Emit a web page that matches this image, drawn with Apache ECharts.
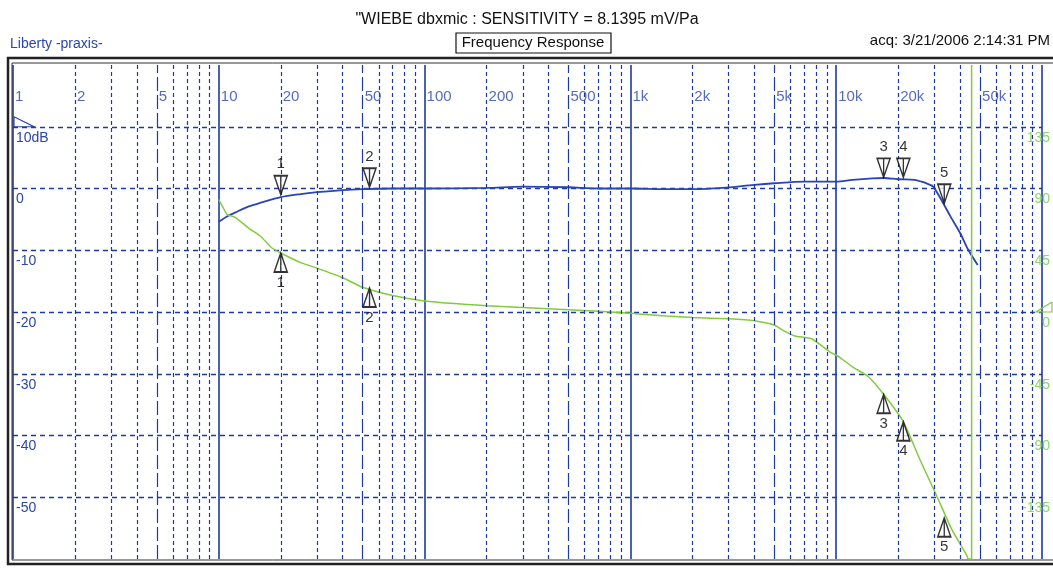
<!DOCTYPE html>
<html>
<head>
<meta charset="utf-8">
<script src="https://cdn.jsdelivr.net/npm/echarts@6/dist/echarts.min.js"></script>
<style>
html, body { margin: 0; padding: 0; background: #fff; }
#main { width: 1053px; height: 578px; }
</style>
</head>
<body>
<div id="main"></div>
<script>
// magnitude (dB)
var magFreq = [10, 11, 12, 14, 16, 20, 25, 30, 40, 50, 70, 100, 200, 300, 500, 700, 1000, 1500, 2000, 2800, 4000, 5000, 7000, 10000, 12000, 15000, 17000, 20000, 24000, 26000, 28000, 29600, 33000, 36000, 40000, 43600, 48700];
var magDb = [-5.4, -4.5, -3.9, -2.9, -2.3, -1.4, -0.9, -0.6, -0.25, -0.1, 0, 0, 0.1, 0.3, 0.2, 0, 0, -0.1, -0.1, 0.1, 0.6, 0.85, 1.1, 1.1, 1.4, 1.65, 1.7, 1.5, 1.4, 1.1, 0.7, 0.3, -2.3, -4.6, -7.2, -9.8, -12.4];

// phase (deg) (wraps at -180)
var phaseFreq = [10, 10.5, 11, 12, 14, 16, 18, 20, 25, 30, 40, 50, 70, 100, 200, 500, 700, 1000, 1500, 2000, 3000, 4000, 5000, 5600, 6300, 7600, 9300, 10400, 12000, 14300, 17000, 21200, 25600, 31000, 36600, 43000, 43800, 45500, 45500];
var phaseDeg = [82, 76, 71, 69, 61, 55, 47, 43, 36, 32, 25, 18, 12, 8, 4.6, 1.7, 0.5, -1, -3, -4, -5, -6.3, -9.5, -14, -17.5, -19.5, -29, -33, -40, -47, -60, -80, -108, -135, -159, -177, -180, -180, 180];

// markers
var markerNames = ['1', '2', '3', '4', '5'];
var markerFreq = [20, 54, 17000, 21200, 33500];
var markerMag = [-1.0, 0.2, 1.8, 1.8, -2.4];
var markerPhase = [43, 17.5, -60, -80, -150];

// frequency tick labels along the top
var freqTickValues = [1, 2, 5, 10, 20, 50, 100, 200, 500, 1000, 2000, 5000, 10000, 20000, 50000];
var freqTickLabels = ['1', '2', '5', '10', '20', '50', '100', '200', '500', '1k', '2k', '5k', '10k', '20k', '50k'];

var gridBlue = '#1f3a9c';
var textBlue = '#2a46a8';
var phaseGreen = '#80cc3c';
var font = 'Liberation Sans, Arial, sans-serif';

// minor vertical grid lines (2..9 per decade)
var minorLines = [];
[1, 10, 100, 1000, 10000].forEach(function(dec) {
	[2, 3, 4, 5, 6, 7, 8, 9].forEach(function(m) {
		minorLines.push({
			xAxis: dec * m,
			lineStyle: { color: gridBlue, width: 1.2, type: m == 5 ? [14, 4] : [4, 3] }
		});
	});
});

var chart = echarts.init(document.getElementById('main'));

var option = {
	animation: false,
	backgroundColor: '#fff',
	grid: { left: 13, right: -3, top: 65, bottom: 19, containLabel: false },
	xAxis: {
		type: 'log',
		logBase: 10,
		min: 1,
		max: 100000,
		axisLine: { show: false },
		axisTick: { show: false },
		axisLabel: { show: false },
		splitLine: { show: true, lineStyle: { color: gridBlue, width: 1.6, type: 'solid' } }
	},
	yAxis: [{
		type: 'value',
		min: -60,
		max: 20,
		interval: 10,
		axisLine: { show: false },
		axisTick: { show: false },
		axisLabel: {
			inside: true,
			margin: 3,
			color: textBlue,
			fontFamily: font,
			fontSize: 14,
			verticalAlign: 'top',
			padding: [4, 0, 0, 0],
			showMinLabel: false,
			showMaxLabel: false,
			formatter: function(v) { return v == 10 ? '10dB' : String(v); }
		},
		splitLine: { show: true, showMinLine: false, showMaxLine: false, lineStyle: { color: gridBlue, width: 1.3, type: [5, 4] } }
	}, {
		type: 'value',
		position: 'right',
		min: -180,
		max: 180,
		interval: 45,
		axisLine: { show: false },
		axisTick: { show: false },
		splitLine: { show: false },
		axisLabel: {
			inside: true,
			margin: -8,
			color: '#8fd46a',
			fontFamily: font,
			fontSize: 14,
			verticalAlign: 'top',
			padding: [4, 0, 0, 0],
			showMinLabel: false,
			showMaxLabel: false
		}
	}],
	series: [{
		name: 'grid',
		type: 'line',
		data: [],
		silent: true,
		z: 1,
		markLine: {
			silent: true,
			symbol: 'none',
			label: { show: false },
			animation: false,
			data: minorLines
		}
	}, {
		name: 'freqLabels',
		type: 'scatter',
		symbolSize: 0,
		clip: false,
		silent: true,
		data: freqTickValues.map(function(f, i) {
			return { value: [f, 20], label: { formatter: freqTickLabels[i] } };
		}),
		label: {
			show: true,
			position: 'right',
			distance: 2,
			offset: [0, 32],
			color: textBlue,
			fontFamily: font,
			fontSize: 15
		}
	}, {
		name: 'Magnitude',
		type: 'line',
		yAxisIndex: 0,
		showSymbol: false,
		smooth: 0.3,
		z: 3,
		lineStyle: { color: '#2a44b6', width: 1.8 },
		data: magFreq.map(function(f, i) { return [f, magDb[i]]; })
	}, {
		name: 'Phase',
		type: 'line',
		yAxisIndex: 1,
		showSymbol: false,
		smooth: 0.2,
		z: 4,
		lineStyle: { color: phaseGreen, width: 1.5 },
		data: phaseFreq.map(function(f, i) { return [f, phaseDeg[i]]; })
	}, {
		name: 'magMarkers',
		type: 'scatter',
		yAxisIndex: 0,
		z: 5,
		symbol: 'path://M0,0L12,0L6,18ZM6,0L6,18',
		symbolSize: [13, 19],
		symbolOffset: [0, -9.5],
		itemStyle: { color: '#fff', borderColor: '#000', borderWidth: 1.6 },
		label: { show: true, position: 'top', distance: 3, color: '#000', fontFamily: font, fontSize: 15 },
		data: markerFreq.map(function(f, i) {
			return { value: [f, markerMag[i]], label: { formatter: markerNames[i] } };
		})
	}, {
		name: 'phaseMarkers',
		type: 'scatter',
		yAxisIndex: 1,
		z: 5,
		symbol: 'path://M6,0L12,18L0,18ZM6,0L6,18',
		symbolSize: [13, 19],
		symbolOffset: [0, 9.5],
		itemStyle: { color: '#fff', borderColor: '#000', borderWidth: 1.6 },
		label: { show: true, position: 'bottom', distance: 2, color: '#000', fontFamily: font, fontSize: 15 },
		data: markerFreq.map(function(f, i) {
			return { value: [f, markerPhase[i]], label: { formatter: markerNames[i] } };
		})
	}]
};
chart.setOption(option);

// header, frame and reference triangles
var yTen = chart.convertToPixel({ yAxisIndex: 0 }, 10);
var yZero = chart.convertToPixel({ yAxisIndex: 1 }, 0);
var xLeft = chart.convertToPixel({ xAxisIndex: 0 }, 1);

chart.setOption({
	graphic: [{
		type: 'text', x: 527, y: 20,
		style: { text: '"WIEBE dbxmic : SENSITIVITY = 8.1395 mV/Pa', font: '16px ' + font, fill: '#111', textAlign: 'center', textVerticalAlign: 'middle' }
	}, {
		type: 'text', x: 10, y: 44,
		style: { text: 'Liberty -praxis-', font: '14px ' + font, fill: textBlue, textVerticalAlign: 'middle' }
	}, {
		type: 'rect', shape: { x: 456, y: 33, width: 155, height: 20 },
		style: { fill: 'none', stroke: '#111', lineWidth: 1.2 }
	}, {
		type: 'text', x: 533, y: 43,
		style: { text: 'Frequency Response', font: '15px ' + font, fill: '#111', textAlign: 'center', textVerticalAlign: 'middle' }
	}, {
		type: 'text', x: 1050, y: 41,
		style: { text: 'acq: 3/21/2006 2:14:31 PM', font: '15px ' + font, fill: '#111', textAlign: 'right', textVerticalAlign: 'middle' }
	}, {
		type: 'rect', shape: { x: 8, y: 58, width: 1070, height: 506 },
		style: { fill: 'none', stroke: '#222', lineWidth: 2.5 }
	}, {
		type: 'rect', shape: { x: 12, y: 63, width: 1070, height: 497 },
		style: { fill: 'none', stroke: '#333', lineWidth: 1 }
	}, {
		type: 'polyline', shape: { points: [[xLeft + 1, yTen - 10], [xLeft + 1, yTen], [xLeft + 21, yTen], [xLeft + 1, yTen - 10]] },
		style: { stroke: textBlue, fill: 'none', lineWidth: 1.2 }
	}, {
		type: 'polyline', shape: { points: [[1052, yZero - 10], [1052, yZero], [1036, yZero], [1052, yZero - 10]] },
		style: { stroke: phaseGreen, fill: 'none', lineWidth: 1.2 }
	}]
});
</script>
</body>
</html>
